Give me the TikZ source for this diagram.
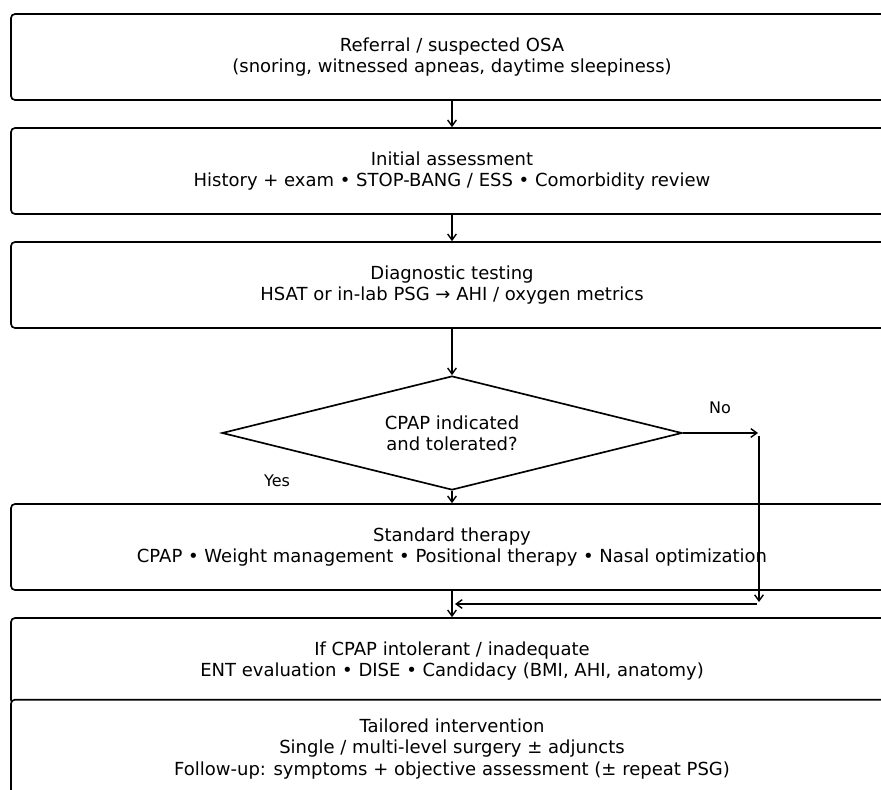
\documentclass[tikz,border=0pt]{standalone}
\usepackage{fontspec}
\setmainfont{DejaVu Sans}
\usetikzlibrary{shapes.geometric,arrows.meta}
\begin{document}
\begin{tikzpicture}[x=0.75pt,y=-0.75pt,
  txt/.style={font=\fontsize{13.5}{15.8}\selectfont},
  box/.style={txt,draw,line width=1.25pt,rounded corners=3pt,fill=white,
    minimum width=661.5pt,minimum height=64.5pt,align=center,inner sep=0pt},
  dec/.style={txt,draw,line width=1.25pt,diamond,aspect=4,align=center,inner sep=0pt,
    minimum width=345pt,minimum height=85.5pt},
  arr/.style={line width=1.05pt,-{Straight Barb[length=4.5pt,width=6.5pt]}},
  lbl/.style={font=\fontsize{12}{14}\selectfont,inner sep=0pt}]
\useasboundingbox (0,0) rectangle (881,789);
\clip (0,0) rectangle (881,789);
\node[box] (b1) at (452,57) {Referral / suspected OSA\\(snoring, witnessed apneas, daytime sleepiness)};
\node[box] (b2) at (452,171) {Initial assessment\\History + exam • STOP-BANG / ESS • Comorbidity review};
\node[box] (b3) at (452,285) {Diagnostic testing\\HSAT or in-lab PSG → AHI / oxygen metrics};
\node[dec] (d) at (452,433) {CPAP indicated\\and tolerated?};
\node[box] (b4) at (452,547) {Standard therapy\\CPAP • Weight management • Positional therapy • Nasal optimization};
\node[box] (b5) at (452,661) {If CPAP intolerant / inadequate\\ENT evaluation • DISE • Candidacy (BMI, AHI, anatomy)};
\node[box,minimum height=74pt] (b6) at (452,749) {Tailored intervention\\Single / multi-level surgery ± adjuncts\\Follow-up: symptoms + objective assessment (± repeat PSG)};
\node[lbl] (yes) at (277,481) {Yes};
\node[lbl] (no) at (720,408) {No};
\coordinate (nr) at (758,433);
\coordinate (vt) at (759,436);
\coordinate (vb) at (759,602);
\coordinate (hr) at (757,604);
\coordinate (hl) at (455,604);
\draw[arr] (b1.south) -- (b2.north);
\draw[arr] (b2.south) -- (b3.north);
\draw[arr] (b3.south) -- (d.north);
\draw[arr] (d.south) -- (b4.north);
\draw[arr] (d.east) -- (nr);
\draw[arr] (vt) -- (vb);
\draw[arr] (hr) -- (hl);
\draw[arr] (b4.south) -- (b5.north);
\end{tikzpicture}
\end{document}
